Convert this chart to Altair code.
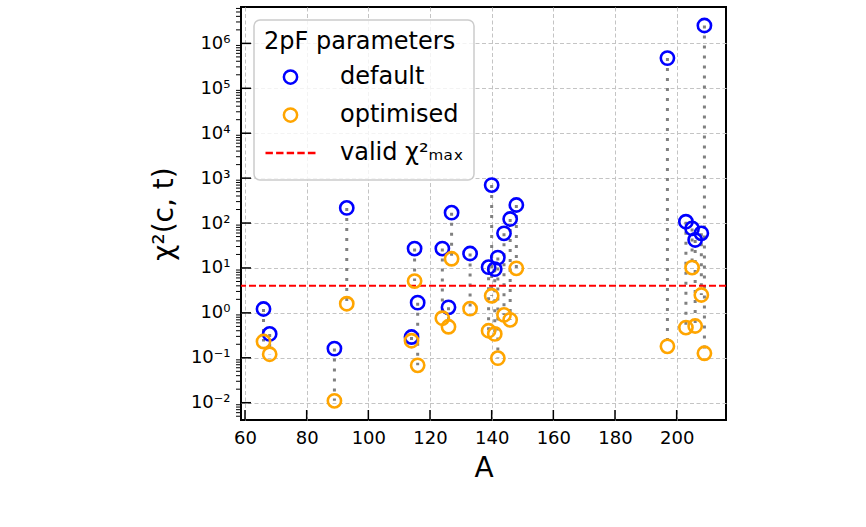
import altair as alt
import pandas as pd

# Mass number of each nucleus and its chi^2(c, t) for both 2pF parameter sets
mass_number = [66, 68, 89, 93, 114, 115, 116, 124, 126, 127, 133, 139, 140,
               141, 142, 144, 146, 148, 197, 203, 205, 206, 208, 209]
chi2_default = [1.22, 0.34, 0.16, 217, 0.29, 27, 1.69, 27, 1.33, 170, 21,
                10.4, 700, 9.4, 17, 59, 123, 252, 4.7e5, 107, 76, 42, 59, 2.5e6]
chi2_optimised = [0.23, 0.12, 0.011, 1.6, 0.24, 5.1, 0.068, 0.76, 0.49, 16,
                  1.24, 0.40, 2.4, 0.34, 0.098, 0.9, 0.7, 9.8, 0.18, 0.47,
                  10.2, 0.51, 2.5, 0.126]
chi2_max = 4.0

series_names = ["default", "optimised", "valid χ²ₘₐₓ"]
series_colors = ["blue", "orange", "red"]

x_ticks = [60, 80, 100, 120, 140, 160, 180, 200]
y_exponents = [-2, -1, 0, 1, 2, 3, 4, 5, 6]
y_tick_labels = ["10⁻²", "10⁻¹", "10⁰", "10¹", "10²", "10³", "10⁴", "10⁵", "10⁶"]

# symbols: a small ring and a dashed stroke, both drawn inside the unit box
ring = "M0.265,0A0.265,0.265,0,1,1,-0.265,0A0.265,0.265,0,1,1,0.265,0Z"
dashes = ("M-1,0H-0.704M-0.576,0H-0.28M-0.152,0H0.144"
          "M0.272,0H0.568M0.696,0H1")

pairs = pd.DataFrame({"A": mass_number, "default": chi2_default,
                      "optimised": chi2_optimised})
points = pd.concat([
    pd.DataFrame({"A": mass_number, "chi2": chi2_default, "series": "default"}),
    pd.DataFrame({"A": mass_number, "chi2": chi2_optimised, "series": "optimised"}),
])
threshold = pd.DataFrame({"chi2": [chi2_max]})
major_y = pd.DataFrame({"chi2": [10.0 ** k for k in y_exponents]})
minor_y = pd.DataFrame({"chi2": [m * 10.0 ** k for k in range(-3, 7)
                                 for m in range(2, 10)
                                 if 0.00412 <= m * 10.0 ** k <= 6.46e6]})
major_x = pd.DataFrame({"A": x_ticks})

FONT = "DejaVu Sans"
x_scale = alt.Scale(domain=[58.7, 216], nice=False, zero=False)
y_scale = alt.Scale(type="log", domain=[0.00412, 6.46e6], nice=False)

label_lookup = "[" + ",".join(f"'{s}'" for s in y_tick_labels) + "]"

x_axis = alt.Axis(values=x_ticks, title="A", format="d", grid=True,
                  gridDash=[4, 2.5], gridColor="#c4c4c4", gridWidth=1,
                  ticks=False, tickSize=0, domain=False,
                  labelFont=FONT, labelFontSize=18, labelPadding=9,
                  labelColor="black", titleFont=FONT, titleFontSize=28,
                  titleFontWeight="normal", titlePadding=7, titleColor="black")
y_axis = alt.Axis(values=[10.0 ** k for k in y_exponents], title="χ²(c, t)",
                  labelExpr=f"{label_lookup}[round(log(datum.value)/LN10)+2]",
                  grid=True, gridDash=[4, 2.5], gridColor="#c4c4c4", gridWidth=1,
                  ticks=False, tickSize=0, domain=False,
                  labelFont=FONT, labelFontSize=18, labelPadding=11,
                  labelColor="black", titleFont=FONT, titleFontSize=28,
                  titleFontWeight="normal", titlePadding=12, titleColor="black")


def xenc(field="A"):
    return alt.X(f"{field}:Q", scale=x_scale, axis=x_axis)


def yenc(field="chi2"):
    return alt.Y(f"{field}:Q", scale=y_scale, axis=y_axis)


legend = alt.Legend(
    orient="none", legendX=13, legendY=13, title="2pF parameters",
    titleFont=FONT, titleFontSize=24, titleFontWeight="normal",
    titleColor="black", titlePadding=6, titleLimit=0,
    labelFont=FONT, labelFontSize=24, labelColor="black", labelOffset=23,
    labelLimit=0,
    symbolSize=2500, symbolStrokeWidth=2.5, clipHeight=34, rowPadding=4,
    padding=10, fillColor="rgba(255,255,255,0.8)", strokeColor="#cccccc",
    cornerRadius=6,
)

connectors = alt.Chart(pairs).mark_rule(
    color="gray", strokeWidth=3, strokeDash=[3, 7]
).encode(x=xenc(), y=yenc("default"), y2="optimised:Q")

valid_line = alt.Chart(threshold).mark_rule(
    color="red", strokeWidth=2, strokeDash=[7, 3]
).encode(y=yenc())

circles = alt.Chart(points).mark_point(
    filled=False, size=2500, strokeWidth=2.6, opacity=1
).encode(
    x=xenc(),
    y=yenc(),
    color=alt.Color("series:N", sort=series_names,
                    scale=alt.Scale(domain=series_names, range=series_colors),
                    legend=legend),
    shape=alt.Shape("series:N", sort=series_names,
                    scale=alt.Scale(domain=series_names,
                                    range=[ring, ring, dashes]),
                    legend=legend),
)

y_major_ticks = alt.Chart(major_y).mark_rule(color="black", strokeWidth=1.5).encode(
    y=yenc(), x=alt.value(0), x2=alt.value(10))
y_minor_ticks = alt.Chart(minor_y).mark_rule(color="black", strokeWidth=1).encode(
    y=yenc(), x=alt.value(-5), x2=alt.value(0))
x_major_ticks = alt.Chart(major_x).mark_rule(color="black", strokeWidth=1.5).encode(
    x=xenc(), y=alt.value(413), y2=alt.value(403))

chart = alt.layer(
    connectors, valid_line, circles, y_major_ticks, y_minor_ticks, x_major_ticks
).properties(
    width=485, height=413,
    autosize=alt.AutoSizeParams(type="none"),
    padding={"left": 241, "top": 7, "right": 140, "bottom": 107},
    background="white",
).configure_view(
    stroke="black", strokeWidth=2
).configure_legend(
    strokeWidth=1.5
)

chart.save("out.html", embed_options={"renderer": "svg", "actions": False})
